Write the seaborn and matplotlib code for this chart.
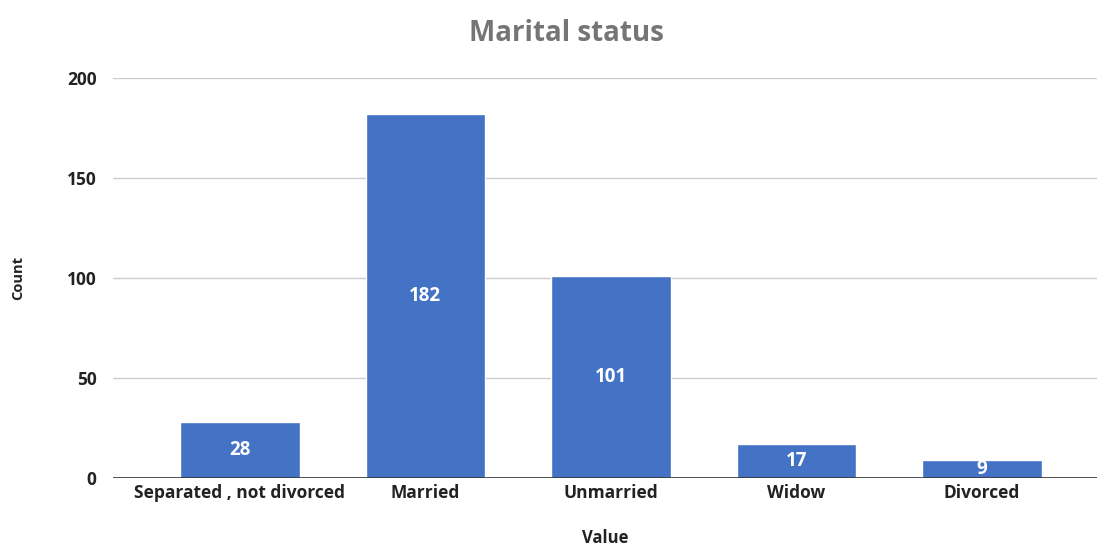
import matplotlib
matplotlib.use("Agg")
import matplotlib.pyplot as plt
import pandas as pd
import seaborn as sns

# Data
categories = ['Separated , not divorced', 'Married', 'Unmarried', 'Widow', 'Divorced']
counts = [28, 182, 101, 17, 9]

df = pd.DataFrame({'Value': categories, 'Count': counts})

sns.set_style("white")
plt.rcParams['font.family'] = ['Open Sans', 'DejaVu Sans']

fig = plt.figure(figsize=(10.99, 5.52), dpi=100)
ax = fig.add_axes([0.103, 0.134, 0.895, 0.725])

sns.barplot(data=df, x='Value', y='Count', color='#4472C4', saturation=1,
            width=0.645, ax=ax, zorder=3)

# labels inside the bars, centred
for cont in ax.containers:
    ax.bar_label(cont, label_type='center', color='white', fontsize=13.5, fontweight='bold')

ax.set_ylim(0, 200)
ax.set_yticks([0, 50, 100, 150, 200])
ax.set_xlim(-0.683, 4.62)
ax.yaxis.grid(True, color='#cccccc', linewidth=1, zorder=0)
ax.axhline(0, color='#333333', linewidth=1.2, zorder=4)
for s in ax.spines.values():
    s.set_visible(False)
ax.tick_params(axis='both', length=0, labelsize=12.5)
for lbl in ax.get_xticklabels() + ax.get_yticklabels():
    lbl.set_fontweight('bold')
    lbl.set_color('#222222')
ax.tick_params(axis='y', pad=12)
ax.tick_params(axis='x', pad=4)

ax.set_xlabel('Value', fontsize=12, fontweight='bold', labelpad=20, color='#222222')
ax.set_ylabel('Count', fontsize=10.5, fontweight='bold', labelpad=30, color='#222222')
fig.suptitle('Marital status', x=0.515, y=0.965, fontsize=20, fontweight='bold', color='#757575')

fig.savefig('out.png', dpi=100)
